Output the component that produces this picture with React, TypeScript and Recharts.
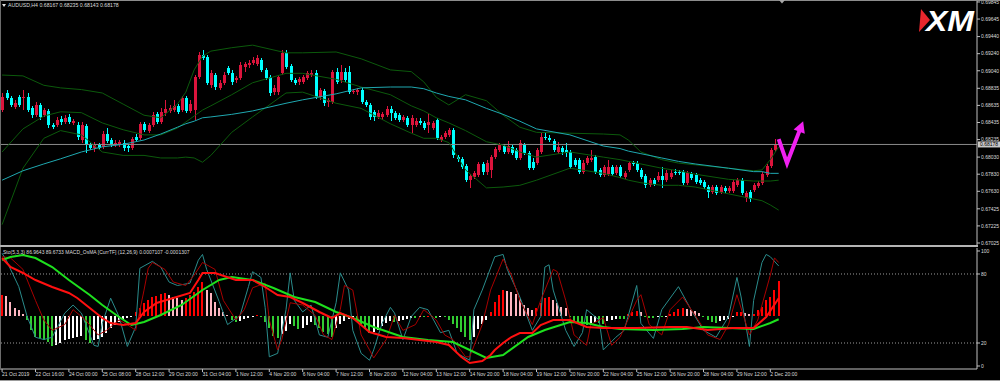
import React from "react";
import { ComposedChart, Bar, Line, XAxis, YAxis, ReferenceLine } from "recharts";

// AUDUSD H4 — candles [open, high, low, close]
const ohlc: [number, number, number, number][] = [
  [0.6858, 0.6878, 0.6856, 0.6873], [0.6878, 0.6882, 0.687, 0.6872], [0.6872, 0.6874, 0.6862, 0.6864],
  [0.6862, 0.687, 0.6859, 0.6866], [0.6873, 0.6876, 0.6862, 0.6864], [0.6872, 0.6882, 0.6858, 0.6873],
  [0.6873, 0.6878, 0.6856, 0.6858], [0.686, 0.6863, 0.6849, 0.6852], [0.6852, 0.6867, 0.685, 0.6864],
  [0.6864, 0.6866, 0.6846, 0.685], [0.6852, 0.686, 0.685, 0.6858], [0.6857, 0.6859, 0.6837, 0.6841],
  [0.6841, 0.6843, 0.6836, 0.6838], [0.6841, 0.685, 0.6838, 0.6846], [0.6848, 0.6851, 0.6841, 0.6844],
  [0.6844, 0.6852, 0.6842, 0.6849], [0.685, 0.6853, 0.6842, 0.6844], [0.6843, 0.6848, 0.6841, 0.6845],
  [0.6841, 0.6844, 0.6823, 0.6827], [0.6823, 0.6844, 0.682, 0.6841], [0.6839, 0.6842, 0.6808, 0.6817],
  [0.6817, 0.682, 0.6811, 0.6814], [0.6814, 0.6821, 0.6809, 0.6817], [0.6817, 0.682, 0.6811, 0.6814],
  [0.6815, 0.6834, 0.6813, 0.683], [0.683, 0.6837, 0.682, 0.6822], [0.6823, 0.6825, 0.6815, 0.6817],
  [0.6817, 0.6823, 0.6815, 0.682], [0.6817, 0.6823, 0.6815, 0.6821], [0.682, 0.6823, 0.681, 0.6814],
  [0.6816, 0.6818, 0.6809, 0.6814], [0.6814, 0.6827, 0.6811, 0.6824], [0.6827, 0.683, 0.6821, 0.6823],
  [0.6825, 0.6844, 0.6823, 0.6842], [0.6842, 0.6844, 0.6832, 0.6835], [0.6834, 0.6843, 0.6831, 0.6841],
  [0.6841, 0.6856, 0.6838, 0.6852], [0.6853, 0.6856, 0.6842, 0.6844], [0.6844, 0.686, 0.6842, 0.6856],
  [0.6855, 0.687, 0.6851, 0.6859], [0.6857, 0.6864, 0.6855, 0.686], [0.6858, 0.687, 0.6856, 0.6863],
  [0.6863, 0.6865, 0.6853, 0.6856], [0.6858, 0.6874, 0.6856, 0.6872], [0.6872, 0.6874, 0.6855, 0.6857],
  [0.6857, 0.687, 0.6855, 0.6865], [0.6858, 0.6899, 0.6846, 0.6897], [0.6897, 0.6926, 0.6894, 0.6922],
  [0.6922, 0.6928, 0.6917, 0.6919], [0.692, 0.6922, 0.6887, 0.689], [0.6887, 0.6905, 0.6884, 0.6901],
  [0.6899, 0.6901, 0.6882, 0.6885], [0.6884, 0.6893, 0.6882, 0.689], [0.689, 0.6903, 0.6887, 0.6899],
  [0.6907, 0.691, 0.6899, 0.6901], [0.6901, 0.6905, 0.6887, 0.6891], [0.6893, 0.6898, 0.689, 0.6896],
  [0.6896, 0.6914, 0.6893, 0.6911], [0.6908, 0.6914, 0.6903, 0.6912], [0.6911, 0.6917, 0.6907, 0.6913],
  [0.6913, 0.692, 0.6911, 0.6917], [0.6912, 0.6922, 0.691, 0.6919], [0.6917, 0.6919, 0.6903, 0.6905],
  [0.6905, 0.6907, 0.6893, 0.6896], [0.6897, 0.6899, 0.6874, 0.6878], [0.6879, 0.6887, 0.6876, 0.6884],
  [0.6879, 0.6899, 0.6876, 0.6897], [0.6901, 0.6928, 0.6899, 0.6925], [0.6925, 0.6928, 0.6906, 0.6908],
  [0.691, 0.6912, 0.6891, 0.6893], [0.6893, 0.6896, 0.6887, 0.689], [0.6891, 0.6897, 0.6887, 0.6894],
  [0.6891, 0.6899, 0.6888, 0.6897], [0.6896, 0.6904, 0.6893, 0.6901], [0.6899, 0.6905, 0.6897, 0.6901],
  [0.6901, 0.6905, 0.6871, 0.6873], [0.6873, 0.6884, 0.687, 0.6882], [0.688, 0.6883, 0.6863, 0.6866],
  [0.6867, 0.6872, 0.6862, 0.687], [0.6867, 0.6905, 0.6865, 0.6903], [0.6903, 0.6907, 0.6888, 0.6891],
  [0.6893, 0.6911, 0.689, 0.6903], [0.6903, 0.6907, 0.6891, 0.6893], [0.6903, 0.691, 0.6877, 0.6879],
  [0.6879, 0.6883, 0.6877, 0.688], [0.6879, 0.6884, 0.6876, 0.6882], [0.6882, 0.6884, 0.6865, 0.6867],
  [0.6867, 0.687, 0.6862, 0.6864], [0.6864, 0.6866, 0.6846, 0.685], [0.6856, 0.6858, 0.6845, 0.685],
  [0.685, 0.6858, 0.6848, 0.6855], [0.685, 0.6856, 0.6846, 0.6853], [0.6852, 0.6863, 0.685, 0.6859],
  [0.6859, 0.6863, 0.6845, 0.6855], [0.6855, 0.6857, 0.6846, 0.6849], [0.6852, 0.6855, 0.6844, 0.6846],
  [0.6846, 0.6852, 0.6844, 0.685], [0.6849, 0.6851, 0.6838, 0.6841], [0.6841, 0.6852, 0.6831, 0.6849],
  [0.6841, 0.6849, 0.6838, 0.6845], [0.6845, 0.6849, 0.6841, 0.6843], [0.6843, 0.6845, 0.6835, 0.6837],
  [0.6841, 0.6855, 0.6831, 0.6844], [0.6837, 0.6845, 0.6835, 0.6843], [0.6846, 0.6849, 0.6823, 0.6825],
  [0.6823, 0.6829, 0.6821, 0.6827], [0.6827, 0.6834, 0.6824, 0.6831], [0.6829, 0.6837, 0.6827, 0.6835],
  [0.6835, 0.6837, 0.6802, 0.6805], [0.6803, 0.6805, 0.6797, 0.6801], [0.6801, 0.6803, 0.6789, 0.6791],
  [0.6793, 0.6795, 0.6774, 0.6776], [0.6776, 0.6783, 0.6767, 0.6781], [0.678, 0.6787, 0.6777, 0.6784],
  [0.6782, 0.6797, 0.678, 0.6795], [0.6795, 0.6797, 0.6782, 0.6786], [0.6786, 0.68, 0.6782, 0.6796],
  [0.6788, 0.6805, 0.6779, 0.6803], [0.6803, 0.6815, 0.6801, 0.6813], [0.6811, 0.682, 0.6809, 0.6817],
  [0.6816, 0.6818, 0.6807, 0.6809], [0.6809, 0.6822, 0.6807, 0.6816], [0.6815, 0.6817, 0.6805, 0.6808],
  [0.6811, 0.6814, 0.68, 0.6802], [0.6802, 0.6823, 0.68, 0.682], [0.6817, 0.682, 0.6805, 0.6808],
  [0.6808, 0.681, 0.6788, 0.679], [0.6797, 0.6802, 0.6788, 0.679], [0.6796, 0.6814, 0.6794, 0.6811],
  [0.6809, 0.6831, 0.6807, 0.6827], [0.6827, 0.6832, 0.6823, 0.6825], [0.6825, 0.6829, 0.6821, 0.6823],
  [0.6822, 0.6824, 0.6809, 0.6811], [0.6809, 0.6821, 0.6807, 0.6815], [0.6814, 0.6816, 0.6805, 0.6809],
  [0.6811, 0.682, 0.6803, 0.6808], [0.6809, 0.6811, 0.6789, 0.6791], [0.68, 0.6802, 0.6791, 0.6794],
  [0.68, 0.6802, 0.6783, 0.6786], [0.6786, 0.68, 0.6783, 0.6796], [0.6796, 0.6804, 0.6794, 0.6802],
  [0.68, 0.6811, 0.6797, 0.6802], [0.6803, 0.6805, 0.6783, 0.6786], [0.6788, 0.679, 0.678, 0.6782],
  [0.6782, 0.6794, 0.678, 0.6791], [0.6783, 0.68, 0.6781, 0.6791], [0.6791, 0.6794, 0.6781, 0.6783],
  [0.6784, 0.6794, 0.6782, 0.6791], [0.6791, 0.6794, 0.6779, 0.6781], [0.678, 0.6787, 0.6777, 0.6784],
  [0.6788, 0.6798, 0.6786, 0.6796], [0.6796, 0.6798, 0.6793, 0.6795], [0.6796, 0.6798, 0.6786, 0.6788],
  [0.6788, 0.679, 0.6777, 0.678], [0.6781, 0.6783, 0.6767, 0.677], [0.677, 0.6779, 0.6768, 0.6776],
  [0.6776, 0.6779, 0.6769, 0.6772], [0.6776, 0.6786, 0.6774, 0.6781], [0.6781, 0.6791, 0.6767, 0.6776],
  [0.6776, 0.6788, 0.6774, 0.6784], [0.678, 0.6788, 0.6777, 0.6784], [0.6786, 0.6789, 0.6782, 0.6784],
  [0.6786, 0.6788, 0.6782, 0.6784], [0.6786, 0.6788, 0.677, 0.6773], [0.6773, 0.6787, 0.677, 0.6784],
  [0.6783, 0.6786, 0.6776, 0.6779], [0.6782, 0.6784, 0.6772, 0.6774], [0.6776, 0.6779, 0.677, 0.6773],
  [0.6774, 0.6776, 0.6766, 0.6768], [0.6768, 0.677, 0.6755, 0.6762], [0.6762, 0.677, 0.676, 0.6768],
  [0.6768, 0.677, 0.6759, 0.6761], [0.6762, 0.677, 0.676, 0.6768], [0.6767, 0.6769, 0.6761, 0.6763],
  [0.6763, 0.6769, 0.6761, 0.6767], [0.6763, 0.6776, 0.6761, 0.6774], [0.677, 0.6779, 0.6768, 0.6776],
  [0.6776, 0.6779, 0.6759, 0.6761], [0.6755, 0.6763, 0.6751, 0.6761], [0.6762, 0.6765, 0.6751, 0.6754],
  [0.6765, 0.6773, 0.6762, 0.677], [0.6769, 0.6775, 0.6767, 0.6773], [0.6773, 0.6786, 0.677, 0.6783],
  [0.6782, 0.6795, 0.678, 0.6793], [0.6793, 0.6814, 0.679, 0.6811], [0.6811, 0.6824, 0.6809, 0.6817],
  [0.68167, 0.68235, 0.68143, 0.68178],
];

// empty slots after the last bar (chart shift)
const SLOTS = 234;

// bollinger bands + slow MA, read at these bars
const bandIdx = [0, 5, 10, 14, 19, 24, 29, 34, 38, 42, 44, 46, 48, 50, 55, 60, 68, 72, 80, 86, 93, 98, 101, 104, 107, 111, 116, 120, 124, 128, 136, 144, 148, 150, 153, 158, 162, 166, 174, 180, 182, 184, 186];
const bbUpper = [0.6899, 0.6898, 0.6887, 0.6884, 0.6882, 0.6878, 0.6865, 0.6852, 0.6849, 0.6865, 0.6879, 0.6905, 0.6921, 0.6927, 0.6931, 0.6934, 0.6925, 0.6925, 0.6926, 0.6918, 0.6905, 0.6903, 0.6891, 0.6873, 0.6864, 0.6876, 0.6869, 0.6852, 0.6838, 0.6832, 0.6831, 0.683, 0.6829, 0.6823, 0.6809, 0.68, 0.6796, 0.6794, 0.679, 0.6787, 0.6788, 0.68, 0.6815];
const bbMiddle = [0.6809, 0.6836, 0.6851, 0.6856, 0.6855, 0.6843, 0.6835, 0.6829, 0.6829, 0.6837, 0.6844, 0.6851, 0.6858, 0.6863, 0.6876, 0.689, 0.6901, 0.6901, 0.6894, 0.6885, 0.6876, 0.6863, 0.6857, 0.6849, 0.6843, 0.6834, 0.6821, 0.6817, 0.6809, 0.6803, 0.6809, 0.6803, 0.68, 0.6798, 0.6795, 0.679, 0.6787, 0.6783, 0.6777, 0.6775, 0.6775, 0.6775, 0.6776];
const bbLower = [0.6724, 0.679, 0.6825, 0.6834, 0.6829, 0.6809, 0.6805, 0.6805, 0.6802, 0.6802, 0.6803, 0.6802, 0.6797, 0.6805, 0.6832, 0.685, 0.6878, 0.6879, 0.6866, 0.686, 0.6842, 0.6831, 0.6825, 0.6825, 0.682, 0.6788, 0.6767, 0.6768, 0.677, 0.6776, 0.679, 0.6784, 0.6779, 0.6776, 0.6773, 0.677, 0.677, 0.6768, 0.676, 0.6754, 0.6752, 0.6747, 0.6741];
const maSlow = [0.6776, 0.6787, 0.6795, 0.6801, 0.6809, 0.6815, 0.6818, 0.6823, 0.683, 0.6838, 0.6842, 0.6845, 0.6849, 0.685, 0.6853, 0.6857, 0.6866, 0.687, 0.6877, 0.6884, 0.6885, 0.6885, 0.6883, 0.6878, 0.6874, 0.687, 0.686, 0.6853, 0.6845, 0.6836, 0.6829, 0.6816, 0.6813, 0.681, 0.6807, 0.6802, 0.6798, 0.6795, 0.679, 0.6786, 0.6786, 0.6784, 0.6784];

const priceTicks = [0.69845, 0.69645, 0.6944, 0.6924, 0.6904, 0.68835, 0.68635, 0.68435, 0.68235, 0.6803, 0.6783, 0.6763, 0.67425, 0.67225, 0.67025];
const lastPrice = 0.68178;

// hand-drawn magenta arrow (bar, price)
const arrowIdx = [186, 188, 191];
const arrowPrice = [0.6824, 0.6796, 0.6834];

// MACD OsMA histogram, one value per bar
const osma = [
  0.00084, 0.0008, 0.00056, 0.00032, 0.00024, 0.00008, -0.00016, -0.00056, -0.00084, -0.00088,
  -0.00096, -0.00104, -0.0012, -0.00116, -0.00108, -0.00096, -0.00092, -0.00088, -0.00084, -0.0008,
  -0.00096, -0.00108, -0.00096, -0.00092, -0.00084, -0.00068, -0.00048, -0.00036, -0.00024, -0.00016,
  -0.00008, -0.00004, 0.00016, 0.00032, 0.00052, 0.00064, 0.00076, 0.0008, 0.00088, 0.00092,
  0.00084, 0.00076, 0.00072, 0.00064, 0.00072, 0.00084, 0.00096, 0.00116, 0.00136, 0.00104,
  0.00092, 0.00056, 0.00032, 0.00016, 0.00004, -0.00016, -0.00024, -0.0002, -0.00012, -0.00008,
  -0.00004, 0.00004, -0.00004, -0.00024, -0.00048, -0.0008, -0.00088, -0.00072, -0.0006, -0.00032,
  -0.0004, -0.00052, -0.00048, -0.00036, -0.00024, -0.00036, -0.00048, -0.00064, -0.00072, -0.00084,
  -0.00048, -0.00032, -0.0002, -0.00012, -0.00004, -0.00016, -0.00032, -0.00052, -0.00068, -0.00064,
  -0.00056, -0.0004, -0.00028, -0.0002, -0.00024, -0.0002, -0.00016, -0.00012, -0.00008, -0.00008,
  -0.00004, -0.00004, 0.00002, -0.00004, -0.00008, -0.00004, -0.00004, -0.00016, -0.00032, -0.00048,
  -0.00064, -0.00084, -0.00096, -0.00084, -0.00052, -0.00032, -0.00016, 0.00016, 0.00056, 0.00084,
  0.00104, 0.001, 0.00096, 0.00088, 0.00068, 0.00044, 0.00032, 0.00024, 0.00032, 0.00052,
  0.00072, 0.00076, 0.00064, 0.00052, 0.00036, 0.00032, -0.00004, -0.00024, -0.00028, -0.00036,
  -0.00036, -0.00028, -0.00024, -0.00028, -0.00032, -0.0002, -0.00016, -0.00012, -0.00012, -0.00012,
  0.00008, 0.00016, 0.0002, 0.00016, -0.00004, -0.00008, -0.00008, -0.00004, -0.00004, -0.00002,
  0.00008, 0.00016, 0.00028, 0.00032, 0.00028, 0.00024, 0.0002, 0.00012, -0.00004, -0.00016,
  -0.00024, -0.00028, -0.0002, -0.00016, -0.00012, -0.00004, 0.00016, 0.00016, 0.00012, 0.00008,
  0.00008, 0.00024, 0.00036, 0.00064, 0.00076, 0.00104, 0.0014,
];

const macdIdx = [0, 2, 5, 8, 12, 16, 18, 21, 24, 26, 29, 32, 34, 37, 41, 45, 47, 48, 51, 56, 60, 63, 66, 69, 72, 76, 79, 81, 84, 88, 92, 96, 100, 104, 107, 110, 112, 115, 117, 118, 120, 122, 124, 127, 129, 132, 136, 140, 144, 152, 160, 164, 169, 175, 180, 183, 186];
const macdMain = [0.00232, 0.00196, 0.00172, 0.00144, 0.00116, 0.00092, 0.00072, 0.00032, -0.00008, -0.00028, -0.00036, -0.00028, 0.00016, 0.00052, 0.00072, 0.00092, 0.00144, 0.00172, 0.00172, 0.00144, 0.00144, 0.00116, 0.00084, 0.00076, 0.00052, 0.00016, -0.00008, 0.00012, -0.00008, -0.00064, -0.00084, -0.00088, -0.00096, -0.00104, -0.00116, -0.00164, -0.00188, -0.0018, -0.00156, -0.00136, -0.00108, -0.00084, -0.00068, -0.00068, -0.00036, -0.00016, -0.00016, -0.00044, -0.00048, -0.00048, -0.00044, -0.00044, -0.00056, -0.00048, -0.00048, -0.00004, 0.00071];
const signalIdx = [0, 2, 5, 8, 12, 16, 21, 24, 28, 31, 34, 38, 43, 48, 52, 55, 60, 65, 70, 75, 80, 84, 89, 96, 102, 108, 112, 116, 120, 126, 130, 136, 140, 144, 148, 156, 163, 168, 174, 180, 184, 186];
const macdSignal = [0.00224, 0.00236, 0.00244, 0.00232, 0.00196, 0.00144, 0.00084, 0.00044, -0.00004, -0.00036, -0.00024, 0.00004, 0.00044, 0.00104, 0.00144, 0.00156, 0.00144, 0.00112, 0.00076, 0.00056, 0.00016, -0.00008, -0.00044, -0.00084, -0.00096, -0.00104, -0.00136, -0.00168, -0.00156, -0.00084, -0.00056, -0.00024, -0.00028, -0.00044, -0.00052, -0.00056, -0.00052, -0.00044, -0.00048, -0.00052, -0.00028, -0.00013];

// Stochastic (5,3,3)
const stochKIdx = [0, 1, 4, 6, 8, 10, 12, 15, 17, 19, 22, 23, 24, 26, 28, 30, 32, 33, 36, 38, 40, 42, 45, 47, 48, 49, 52, 54, 57, 59, 60, 62, 63, 64, 66, 68, 69, 70, 72, 74, 76, 78, 80, 81, 83, 84, 86, 88, 89, 91, 93, 94, 96, 98, 100, 102, 105, 107, 109, 112, 113, 115, 118, 120, 121, 124, 127, 129, 130, 131, 132, 135, 137, 139, 140, 143, 144, 147, 149, 152, 153, 156, 158, 162, 165, 168, 171, 174, 176, 177, 179, 180, 182, 183, 184, 186];
const stochK = [98, 92, 69, 43, 25, 23, 25, 46, 53, 46, 18, 17, 37, 59, 43, 17, 34, 85, 91, 86, 73, 70, 72, 92, 97, 84, 56, 36, 44, 69, 82, 77, 51, 8, 11, 49, 81, 57, 47, 53, 27, 25, 55, 81, 66, 31, 11, 5, 14, 37, 51, 46, 23, 43, 51, 49, 29, 31, 11, 5, 49, 66, 95, 97, 84, 60, 31, 43, 86, 88, 66, 31, 17, 29, 49, 40, 14, 25, 31, 70, 37, 24, 49, 69, 49, 31, 25, 43, 77, 60, 17, 57, 90, 97, 95, 87];
const stochDIdx = [0, 2, 5, 8, 10, 12, 15, 17, 20, 23, 25, 28, 30, 32, 34, 35, 36, 39, 41, 44, 46, 48, 51, 53, 56, 58, 60, 63, 64, 66, 67, 69, 72, 75, 77, 79, 81, 82, 84, 86, 88, 89, 92, 94, 96, 99, 101, 104, 106, 108, 111, 112, 115, 117, 120, 122, 124, 127, 129, 132, 133, 135, 137, 140, 141, 144, 146, 148, 152, 153, 155, 158, 160, 163, 166, 169, 172, 174, 176, 179, 181, 184, 185, 186];
const stochD = [95, 94, 84, 57, 40, 31, 36, 49, 40, 27, 31, 40, 36, 31, 66, 85, 90, 84, 73, 70, 79, 90, 84, 57, 40, 49, 68, 72, 40, 14, 23, 55, 53, 44, 27, 23, 49, 70, 66, 27, 14, 7, 23, 44, 31, 36, 49, 40, 27, 23, 8, 8, 36, 66, 93, 79, 57, 36, 57, 84, 82, 57, 27, 18, 36, 42, 18, 25, 57, 62, 36, 27, 49, 60, 44, 27, 23, 36, 62, 27, 40, 79, 94, 90];

const stochLevels = [0, 20, 80, 100];

const timeIdx = [0, 8, 16, 24, 32, 40, 48, 56, 64, 72, 80, 88, 96, 104, 112, 120, 128, 136, 144, 152, 160, 168, 176, 184];
const timeLabels = ["21 Oct 2019", "22 Oct 16:00", "24 Oct 00:00", "25 Oct 08:00", "28 Oct 12:00", "29 Oct 20:00", "31 Oct 04:00", "1 Nov 12:00", "4 Nov 20:00", "6 Nov 04:00", "7 Nov 12:00", "8 Nov 20:00", "12 Nov 04:00", "13 Nov 12:00", "14 Nov 20:00", "18 Nov 04:00", "19 Nov 12:00", "20 Nov 20:00", "22 Nov 04:00", "25 Nov 12:00", "26 Nov 20:00", "28 Nov 04:00", "29 Nov 12:00", "2 Dec 20:00"];

const FONT = "'Liberation Sans', Arial, sans-serif";
const TXT = "#dcdcdc";

const toMap = (idx: number[], vals: number[]) => {
  const m = new Map<number, number>();
  idx.forEach((k, j) => m.set(k, vals[j]));
  return m;
};

const upM = toMap(bandIdx, bbUpper);
const midM = toMap(bandIdx, bbMiddle);
const loM = toMap(bandIdx, bbLower);
const maM = toMap(bandIdx, maSlow);
const arM = toMap(arrowIdx, arrowPrice);

const mainData = Array.from({ length: SLOTS }, (_, i) => {
  const c = ohlc[i];
  return {
    i,
    o: c ? c[0] : null,
    h: c ? c[1] : null,
    l: c ? c[2] : null,
    c: c ? c[3] : null,
    range: c ? [c[2], c[1]] : null,
    up: upM.get(i) ?? null,
    mid: midM.get(i) ?? null,
    lo: loM.get(i) ?? null,
    ma: maM.get(i) ?? null,
    arrow: arM.get(i) ?? null,
  };
});

const macdM = toMap(macdIdx, macdMain);
const sigM = toMap(signalIdx, macdSignal);
const kM = toMap(stochKIdx, stochK);
const dM = toMap(stochDIdx, stochD);

const lowerData = Array.from({ length: SLOTS }, (_, i) => {
  const v = i < osma.length ? osma[i] : null;
  const prev = i > 0 ? osma[i - 1] : v;
  let color = "#ff0000";
  if (v != null && prev != null) {
    if (v >= 0) color = v >= prev ? "#ff0000" : "#ffb6c1";
    else color = v <= prev ? "#32cd32" : "#ffffff";
  }
  return {
    i,
    osma: v,
    osmaColor: color,
    macd: macdM.get(i) ?? null,
    signal: sigM.get(i) ?? null,
    k: kM.get(i) ?? null,
    d: dM.get(i) ?? null,
  };
});

const Candle = (props: any) => {
  const { x, y, width, height, payload } = props;
  if (!payload || payload.o == null || y == null) return <g />;
  const top = Math.min(y, y + height);
  const hh = Math.abs(height);
  const { o, h, l, c } = payload;
  const k = h > l ? hh / (h - l) : 0;
  const yo = top + (h - o) * k;
  const yc = top + (h - c) * k;
  const bTop = Math.min(yo, yc);
  const bH = Math.max(1, Math.abs(yo - yc));
  const col = c >= o ? "#dc143c" : "#00ffff";
  const cx = Math.round(x + width / 2);
  return (
    <g shapeRendering="crispEdges">
      <rect x={cx} y={top} width={1} height={Math.max(1, hh)} fill={col} />
      <rect x={cx - 1} y={bTop} width={3} height={bH} fill={col} />
    </g>
  );
};

const OsmaBar = (props: any) => {
  const { x, y, width, height, payload } = props;
  if (!payload || payload.osma == null || y == null) return <g />;
  const top = Math.min(y, y + height);
  const hh = Math.max(1, Math.abs(height));
  return <rect x={Math.round(x)} y={top} width={width} height={hh} fill={payload.osmaColor} shapeRendering="crispEdges" />;
};

const ArrowHead = (p: any) => {
  if (!p.payload || p.payload.i !== arrowIdx[arrowIdx.length - 1] || p.cx == null) return <g key={`ah${p.index}`} />;
  const ux = 0.36, uy = -0.93, px = 0.93, py = 0.36;
  const tx = p.cx + ux * 10, ty = p.cy + uy * 10;
  const bx = p.cx - ux * 1, by = p.cy - uy * 1;
  return (
    <polygon
      key="ah"
      points={`${tx},${ty} ${bx + px * 6},${by + py * 6} ${bx - px * 6},${by - py * 6}`}
      fill="#f020f0"
    />
  );
};

const PriceTick = ({ x, y, payload }: any) => (
  <g>
    <line x1={x} x2={x + 3} y1={y} y2={y} stroke="#c0c0c0" />
    <text x={x + 4} y={y + 1.8} fontSize={5} fill={TXT} fontFamily={FONT}>
      {Number(payload.value).toFixed(5)}
    </text>
  </g>
);

const LevelTick = ({ x, y, payload }: any) => (
  <g>
    <line x1={x} x2={x + 3} y1={y} y2={y} stroke="#c0c0c0" />
    <text x={x + 4} y={y + 1.8} fontSize={5} fill={TXT} fontFamily={FONT}>
      {payload.value}
    </text>
  </g>
);

const TimeTick = ({ x, y, payload }: any) => {
  const j = timeIdx.indexOf(payload.value);
  return (
    <g>
      <line x1={x} x2={x} y1={y} y2={y + 3} stroke="#c0c0c0" />
      <text x={x} y={y + 7} fontSize={5} fill={TXT} fontFamily={FONT}>
        {timeLabels[j]}
      </text>
    </g>
  );
};

const PriceFlag = (props: any) => {
  const vb = props.viewBox || {};
  const x = (vb.x ?? 0) + (vb.width ?? 0);
  const y = vb.y ?? 0;
  return (
    <g>
      <rect x={x + 1} y={y - 3} width={22} height={6} fill="#c8c8c8" />
      <text x={x + 3} y={y + 1.8} fontSize={5} fill="#000" fontFamily={FONT}>
        {lastPrice.toFixed(5)}
      </text>
    </g>
  );
};

export default function App() {
  return (
    <div style={{ position: "relative", width: 1000, height: 381, background: "#000", overflow: "hidden" }}>
      <style>{`body{margin:0;background:#000}`}</style>

      <div style={{ position: "absolute", left: 0, top: 0 }}>
        <ComposedChart width={1000} height={246} data={mainData} margin={{ top: 0, right: 0, bottom: 0, left: 0 }}>
          <XAxis dataKey="i" type="category" hide />
          <YAxis
            orientation="right"
            width={23}
            domain={[0.6699, 0.69868]}
            allowDataOverflow
            ticks={priceTicks}
            interval={0}
            tickSize={0}
            tickMargin={0}
            tickLine={false}
            axisLine={{ stroke: "#c0c0c0" }}
            tick={<PriceTick />}
          />
          <ReferenceLine y={lastPrice} stroke="#8a8a8a" label={<PriceFlag />} />
          <Line dataKey="up" stroke="#0c5a0c" strokeWidth={1} dot={false} activeDot={false} connectNulls isAnimationActive={false} />
          <Line dataKey="mid" stroke="#0c5a0c" strokeWidth={1} dot={false} activeDot={false} connectNulls isAnimationActive={false} />
          <Line dataKey="lo" stroke="#0c5a0c" strokeWidth={1} dot={false} activeDot={false} connectNulls isAnimationActive={false} />
          <Line dataKey="ma" stroke="#1fa8b0" strokeWidth={1} dot={false} activeDot={false} connectNulls isAnimationActive={false} />
          <Bar dataKey="range" barSize={3} shape={<Candle />} isAnimationActive={false} />
          <Line dataKey="arrow" stroke="#f020f0" strokeWidth={4} strokeLinejoin="miter" dot={ArrowHead} activeDot={false} connectNulls isAnimationActive={false} />
        </ComposedChart>
      </div>

      <div style={{ position: "absolute", left: 0, top: 247 }}>
        <ComposedChart width={1000} height={134} data={lowerData} margin={{ top: 1, right: 0, bottom: 0, left: 0 }}>
          <XAxis
            dataKey="i"
            type="category"
            ticks={timeIdx}
            interval={0}
            height={12}
            tickSize={0}
            tickMargin={0}
            tickLine={false}
            axisLine={{ stroke: "#c0c0c0" }}
            tick={<TimeTick />}
          />
          <YAxis yAxisId="macd" orientation="left" width={0} hide domain={[-0.00212, 0.00272]} allowDataOverflow />
          <YAxis
            yAxisId="stoch"
            orientation="right"
            width={23}
            domain={[-2.6, 102.6]}
            allowDataOverflow
            ticks={stochLevels}
            interval={0}
            tickSize={0}
            tickMargin={0}
            tickLine={false}
            axisLine={{ stroke: "#c0c0c0" }}
            tick={<LevelTick />}
          />
          <ReferenceLine yAxisId="stoch" y={80} stroke="#9a9a9a" strokeDasharray="1 2" />
          <ReferenceLine yAxisId="stoch" y={20} stroke="#9a9a9a" strokeDasharray="1 2" />
          <Bar yAxisId="macd" dataKey="osma" barSize={2} shape={<OsmaBar />} isAnimationActive={false} />
          <Line yAxisId="stoch" dataKey="k" stroke="#2a8c8c" strokeWidth={1} dot={false} activeDot={false} connectNulls isAnimationActive={false} />
          <Line yAxisId="stoch" dataKey="d" stroke="#a80000" strokeWidth={1} dot={false} activeDot={false} connectNulls isAnimationActive={false} />
          <Line yAxisId="macd" dataKey="signal" stroke="#1ee01e" strokeWidth={2} dot={false} activeDot={false} connectNulls isAnimationActive={false} />
          <Line yAxisId="macd" dataKey="macd" stroke="#ff1010" strokeWidth={2} dot={false} activeDot={false} connectNulls isAnimationActive={false} />
        </ComposedChart>
      </div>

      <svg width={1000} height={381} style={{ position: "absolute", left: 0, top: 0, pointerEvents: "none" }}>
        <line x1={0} x2={1000} y1={0.5} y2={0.5} stroke="#8c8c8c" />
        <line x1={0.5} x2={0.5} y1={0} y2={369} stroke="#6c6c6c" />
        <rect x={0} y={245} width={978} height={2} fill="#b4b4b4" />
        <line x1={0} x2={1000} y1={380.5} y2={380.5} stroke="#9c9c9c" />
        <polygon points="779,0 785,0 782,3.5" fill="#a8a8a8" />
        <polygon points="2,4 6,4 4,7" fill="#e0e0e0" />
        <text x={8} y={7.3} fontSize={5.2} fill={TXT} fontFamily={FONT}>
          AUDUSD,H4  0.68167 0.68235 0.68143 0.68178
        </text>
        <text x={3} y={254} fontSize={5} fill={TXT} fontFamily={FONT}>
          Sto(5,3,3) 86.9643 89.6733  MACD_OsMA [CurrTF] (12,26,9) 0.0007107 -0.0001307
        </text>
        <polygon points="921,9 930,20 919,32" fill="#e8262d" />
        <text
          x={926}
          y={31}
          fontSize={30}
          fontWeight="bold"
          fontStyle="italic"
          fill="#ffffff"
          fontFamily={FONT}
          textLength={48}
          lengthAdjust="spacingAndGlyphs"
        >
          XM
        </text>
      </svg>
    </div>
  );
}
